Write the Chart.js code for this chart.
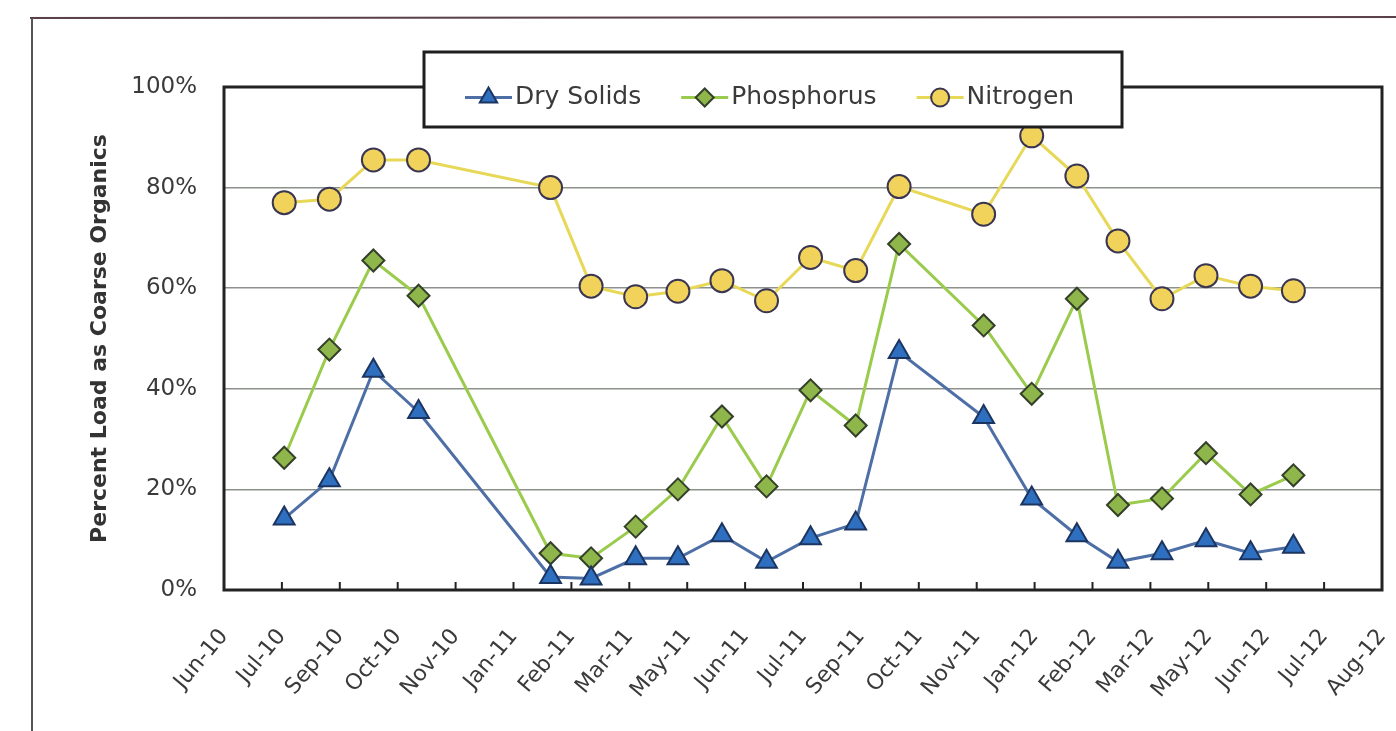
<!DOCTYPE html>
<html>
<head>
<meta charset="utf-8">
<script src="https://cdn.jsdelivr.net/npm/chart.js@4.4.1/dist/chart.umd.min.js"></script>
<style>
  html, body { margin: 0; padding: 0; background: #ffffff; }
  canvas { display: block; }
</style>
</head>
<body>
<canvas id="chart" width="1396" height="731"></canvas>
<script>
// Axis tick labels (evenly spaced date ticks)
const tickLabels = ['Jun-10','Jul-10','Sep-10','Oct-10','Nov-10','Jan-11','Feb-11','Mar-11','May-11','Jun-11','Jul-11',
                    'Sep-11','Oct-11','Nov-11','Jan-12','Feb-12','Mar-12','May-12','Jun-12','Jul-12','Aug-12'];

// Sampling dates, expressed in tick intervals counted from Jun-10
const samplePos = [1.04, 1.82, 2.58, 3.36, 5.64, 6.34, 7.11, 7.84, 8.60, 9.37, 10.13,
                   10.91, 11.66, 13.12, 13.95, 14.73, 15.44, 16.20, 16.96, 17.73, 18.47];

// Percent of load present as coarse organics
const drySolids  = [14.2, 21.8, 43.6, 35.4, 2.6, 2.3, 6.3, 6.3, 10.9, 5.6, 10.3,
                    13.2, 47.3, 34.4, 18.2, 10.9, 5.6, 7.3, 9.9, 7.3, 8.6];
const phosphorus = [26.3, 47.8, 65.5, 58.5, 7.3, 6.3, 12.6, 20.0, 34.5, 20.6, 39.7,
                    32.7, 68.8, 52.6, 39.0, 57.9, 16.9, 18.2, 27.2, 19.0, 22.8];
const nitrogen   = [77.0, 77.7, 85.5, 85.5, 80.0, 60.4, 58.3, 59.4, 61.5, 57.5, 66.1,
                    63.5, 80.2, 74.7, 90.3, 82.3, 69.4, 57.9, 62.5, 60.4, 59.5];

const seriesNames = ['Dry Solids', 'Phosphorus', 'Nitrogen'];
const yTicks = [0, 20, 40, 60, 80, 100];

const FONT = "'DejaVu Sans', sans-serif";
const TEXT = '#3a3a3a';

const toPoints = vals => samplePos.map((x, i) => ({ x: x, y: vals[i] }));

// Small marker painter shared by the legend
function paintMarker(ctx, style, x, y, r, fill, stroke, bw) {
  ctx.save();
  ctx.beginPath();
  if (style === 'triangle') {
    for (let k = 0; k < 3; k++) {
      const a = k * 2 * Math.PI / 3;
      const px = x + Math.sin(a) * r, py = y - Math.cos(a) * r;
      if (k === 0) ctx.moveTo(px, py); else ctx.lineTo(px, py);
    }
    ctx.closePath();
  } else if (style === 'rectRot') {
    ctx.moveTo(x - r, y); ctx.lineTo(x, y - r); ctx.lineTo(x + r, y); ctx.lineTo(x, y + r);
    ctx.closePath();
  } else {
    ctx.arc(x, y, r, 0, Math.PI * 2);
  }
  ctx.fillStyle = fill; ctx.fill();
  ctx.lineWidth = bw; ctx.strokeStyle = stroke; ctx.stroke();
  ctx.restore();
}

// Page frame, plot box and inner tick marks
const framePlugin = {
  id: 'framePlugin',
  beforeDraw(chart) {
    const ctx = chart.ctx;
    ctx.save();
    ctx.fillStyle = '#ffffff';
    ctx.fillRect(0, 0, chart.width, chart.height);
    ctx.lineWidth = 2;
    ctx.strokeStyle = '#5a4048';
    ctx.beginPath(); ctx.moveTo(30, 18); ctx.lineTo(chart.width, 17); ctx.stroke();
    ctx.strokeStyle = '#555555';
    ctx.beginPath(); ctx.moveTo(32, 18); ctx.lineTo(32, chart.height); ctx.stroke();
    ctx.restore();
  },
  beforeDatasetsDraw(chart) {
    const ctx = chart.ctx, a = chart.chartArea, xs = chart.scales.x;
    ctx.save();
    ctx.strokeStyle = '#222222';
    ctx.lineWidth = 2;
    for (let i = 1; i < tickLabels.length - 1; i++) {
      const px = xs.getPixelForValue(i);
      ctx.beginPath(); ctx.moveTo(px, a.bottom); ctx.lineTo(px, a.bottom - 8); ctx.stroke();
    }
    ctx.lineWidth = 3;
    ctx.strokeRect(a.left, a.top, a.right - a.left, a.bottom - a.top);
    ctx.restore();
  }
};

// Boxed legend sitting across the top edge of the plot
const legendPlugin = {
  id: 'boxLegend',
  afterDraw(chart) {
    const ctx = chart.ctx;
    const box = { x: 424, y: 52, w: 698, h: 75 };
    ctx.save();
    ctx.fillStyle = '#ffffff';
    ctx.fillRect(box.x, box.y, box.w, box.h);
    ctx.lineWidth = 3;
    ctx.strokeStyle = '#1e1e1e';
    ctx.strokeRect(box.x, box.y, box.w, box.h);
    ctx.font = '25px ' + FONT;
    ctx.textBaseline = 'middle';
    ctx.textAlign = 'left';
    const cy = box.y + box.h / 2 + 8;
    let x = 465;
    chart.data.datasets.forEach(ds => {
      ctx.strokeStyle = ds.borderColor;
      ctx.lineWidth = 3;
      ctx.beginPath(); ctx.moveTo(x, cy); ctx.lineTo(x + 47, cy); ctx.stroke();
      paintMarker(ctx, ds.pointStyle, x + 23.5, cy, ds.pointStyle === 'triangle' ? 10 : 9,
                  ds.pointBackgroundColor, ds.pointBorderColor, 2);
      ctx.fillStyle = TEXT;
      ctx.fillText(ds.label, x + 50, cy);
      x += 50 + ctx.measureText(ds.label).width + 40;
    });
    ctx.restore();
  }
};

new Chart(document.getElementById('chart'), {
  type: 'line',
  data: {
    datasets: [
      {
        label: seriesNames[0],
        data: toPoints(drySolids),
        borderColor: '#4d6fa6',
        borderWidth: 3,
        pointStyle: 'triangle',
        pointRadius: 12,
        pointBackgroundColor: '#2f6fc0',
        pointBorderColor: '#1c3560',
        pointBorderWidth: 2
      },
      {
        label: seriesNames[1],
        data: toPoints(phosphorus),
        borderColor: '#9acb4c',
        borderWidth: 3,
        pointStyle: 'rectRot',
        pointRadius: 11,
        pointBackgroundColor: '#8fb64a',
        pointBorderColor: '#34402a',
        pointBorderWidth: 2
      },
      {
        label: seriesNames[2],
        data: toPoints(nitrogen),
        borderColor: '#e8d858',
        borderWidth: 3,
        pointStyle: 'circle',
        pointRadius: 11.5,
        pointBackgroundColor: '#f1d35c',
        pointBorderColor: '#3a3550',
        pointBorderWidth: 2
      }
    ]
  },
  options: {
    responsive: false,
    animation: false,
    events: [],
    layout: { padding: { top: 87, right: 10, left: 0, bottom: 0 } },
    plugins: { legend: { display: false }, tooltip: { enabled: false } },
    elements: { line: { tension: 0 } },
    scales: {
      x: {
        type: 'linear',
        min: 0,
        max: tickLabels.length - 1,
        grid: { display: false, drawTicks: false },
        border: { display: false },
        afterBuildTicks: s => { s.ticks = tickLabels.map((_, i) => ({ value: i })); },
        afterFit: s => { s.height = 141; s.paddingLeft = 0; s.paddingRight = 0; },
        ticks: {
          autoSkip: false,
          minRotation: 50,
          maxRotation: 50,
          padding: 34,
          color: TEXT,
          font: { family: FONT, size: 22 },
          callback: v => tickLabels[v]
        }
      },
      y: {
        min: 0,
        max: 100,
        grid: {
          drawTicks: false,
          lineWidth: 1.5,
          color: c => (c.tick && (c.tick.value === 0 || c.tick.value === 100)) ? 'rgba(0,0,0,0)' : '#8c918c'
        },
        border: { display: false },
        afterBuildTicks: s => { s.ticks = yTicks.map(v => ({ value: v })); },
        afterFit: s => { s.width = 224; s.paddingTop = 0; s.paddingBottom = 0; },
        ticks: {
          padding: 27,
          color: TEXT,
          font: { family: FONT, size: 23 },
          callback: v => v + '%'
        },
        title: {
          display: true,
          text: 'Percent Load as Coarse Organics',
          color: '#333333',
          font: { family: FONT, size: 22, weight: 'bold' },
          padding: { top: 87, bottom: 0 }
        }
      }
    }
  },
  plugins: [framePlugin, legendPlugin]
});
</script>
</body>
</html>
